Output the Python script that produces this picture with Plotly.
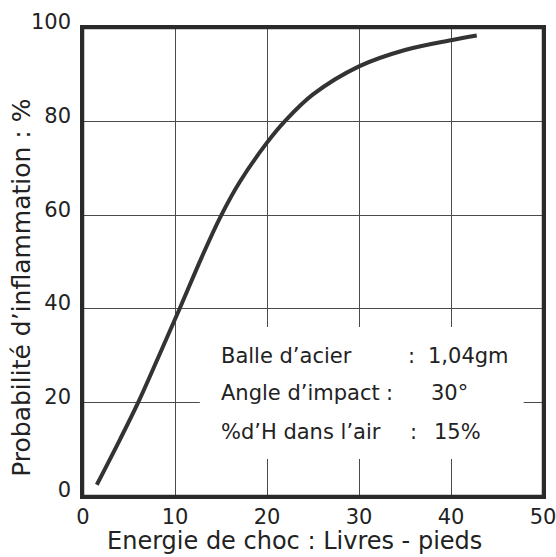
import plotly.graph_objects as go

energie = [1.5, 4.0, 6.0, 8.2, 10.5, 12.9, 14.9, 17.0, 20.0, 22.0, 25.0, 30.0, 35.0, 40.0, 42.8]
probabilite = [2.4, 12.0, 20.0, 29.7, 40.0, 51.0, 59.5, 67.0, 75.5, 80.2, 85.8, 91.8, 95.3, 97.4, 98.4]

x_ticks = [0, 10, 20, 30, 40, 50]
y_ticks = [0, 20, 40, 60, 80, 100]

x_title = "Energie de choc : Livres - pieds"
y_title = "Probabilité d’inflammation : %"

# legend note: one row per parameter -> label, colon, value
note_labels = ["Balle d’acier", "Angle d’impact", "%d’H dans l’air"]
note_values = ["1,04gm", "30°", "15%"]
note_label_x = [14.9, 14.9, 14.9]
note_colon_x = [35.75, 33.3, 35.9]
note_value_x = [37.4, 37.7, 38.0]
note_y = [29.9, 22.0, 13.7]

FONT = "DejaVu Sans"
INK = "#222222"

fig = go.Figure()
fig.add_trace(go.Scatter(
    x=energie, y=probabilite, mode="lines",
    line=dict(color="#333333", width=4, shape="spline", smoothing=1.0),
    hoverinfo="skip", showlegend=False,
))

# white panel behind the note text (interrupts the grid lines)
fig.add_shape(type="rect", xref="x", yref="y", x0=12.7, x1=47.9, y0=7.9, y1=36.1,
              fillcolor="white", line=dict(width=0), layer="between")
# frame around the plotting area
fig.add_shape(type="rect", xref="paper", yref="paper", x0=0, x1=1, y0=0, y1=1,
              line=dict(color="#2a2a2a", width=2.5), fillcolor="rgba(0,0,0,0)",
              layer="above")

note_font = dict(family=FONT, size=21, color=INK)
for lab, val, lx, cx, vx, yy in zip(note_labels, note_values, note_label_x,
                                    note_colon_x, note_value_x, note_y):
    fig.add_annotation(x=lx, y=yy, xref="x", yref="y", text=lab, showarrow=False,
                       xanchor="left", yanchor="middle", borderpad=0, font=note_font)
    fig.add_annotation(x=cx, y=yy, xref="x", yref="y", text=":", showarrow=False,
                       xanchor="center", yanchor="middle", borderpad=0, font=note_font)
    fig.add_annotation(x=vx, y=yy, xref="x", yref="y", text=val, showarrow=False,
                       xanchor="left", yanchor="middle", borderpad=0, font=note_font)

fig.add_annotation(x=-0.134, y=0.4455, xref="paper", yref="paper", text=y_title,
                   textangle=-90, showarrow=False, xanchor="center", yanchor="middle",
                   font=dict(family=FONT, size=25, color=INK))
fig.add_annotation(x=0.46, y=-0.0962, xref="paper", yref="paper", text=x_title,
                   showarrow=False, xanchor="center", yanchor="middle",
                   font=dict(family=FONT, size=24, color=INK))

axis_common = dict(showgrid=True, gridcolor="#4a4a4a", gridwidth=1.2, showline=True,
                   linecolor="#2a2a2a", linewidth=2.5, mirror=True, zeroline=False,
                   automargin=False, ticks="", ticklabeloverflow="allow",
                   tickfont=dict(family=FONT, size=21, color=INK))
fig.update_xaxes(range=[0, 50], tickvals=x_ticks, ticklabelstandoff=0, **axis_common)
fig.update_yaxes(range=[0, 100], tickvals=y_ticks, ticklabelstandoff=5,
                 ticklabelshift=-6, **axis_common)

fig.update_layout(width=556, height=557, margin=dict(l=83, r=13, t=28, b=61),
                  paper_bgcolor="white", plot_bgcolor="white", showlegend=False)

fig.write_html("out.html", config={"displayModeBar": False},
               post_script="document.body.style.margin='0';document.body.style.overflow='hidden';")
